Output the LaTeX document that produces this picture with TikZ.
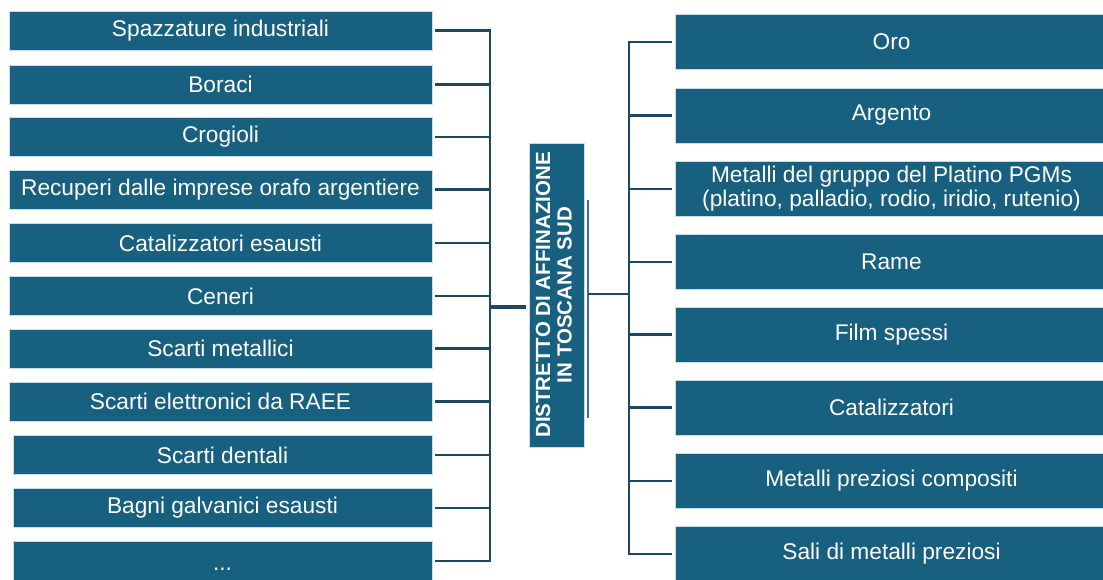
\documentclass[tikz,border=0pt]{standalone}
\usepackage{fontspec}
\setmainfont{Liberation Sans}
\usepackage{graphicx}
\usepackage{tikz}
\usetikzlibrary{positioning,calc}
\definecolor{boxBlue}{RGB}{24,96,128}
\definecolor{linkBlue}{RGB}{28,72,98}
\definecolor{edgeBlue}{RGB}{200,220,232}

\begin{document}
\begin{tikzpicture}[x=1pt,y=-1pt,
    item/.style={draw=edgeBlue, line width=0.8pt, fill=boxBlue, text=white, inner sep=0pt, align=center, font=\fontsize{22.7}{24}\selectfont},
    litem/.style={item, minimum width=423pt, minimum height=39pt},
    ritem/.style={item, minimum width=433pt, minimum height=55pt},
    hubbox/.style={item, minimum width=55pt, minimum height=304pt, font=\bfseries\fontsize{20.5}{21.5}\selectfont},
    link/.style={draw=linkBlue, line width=2.4pt}]
    \useasboundingbox (0,0) rectangle (1103,579);

    % sources
    \node[litem] (s1) at (220.5,30.5) {Spazzature industriali};
    \node[litem] (s2) at (220.5,84.5) {Boraci};
    \node[litem] (s3) at (220.5,137) {Crogioli};
    \node[litem] (s4) at (220.5,189.5) {Recuperi dalle imprese orafo argentiere};
    \node[litem] (s5) at (220.5,243) {Catalizzatori esausti};
    \node[litem] (s6) at (220.5,296) {Ceneri};
    \node[litem] (s7) at (220.5,348.5) {Scarti metallici};
    \node[litem] (s8) at (220.5,401.5) {Scarti elettronici da RAEE};
    \node[litem, minimum width=419pt] (s9) at (222.5,455) {Scarti dentali};
    \node[litem, minimum width=419pt] (s10) at (222.5,508) {Bagni galvanici esausti};
    \node[litem, minimum width=419pt] (s11) at (222.5,561) {\raisebox{-9pt}[0pt][0pt]{...}};

    % district
    \node[hubbox] (hub) at (556.5,295) {\rotatebox{90}{\begin{tabular}{@{}c@{}}DISTRETTO DI AFFINAZIONE\\IN TOSCANA SUD\end{tabular}}};

    % products
    \node[ritem] (m1) at (891.5,42) {Oro};
    \node[ritem] (m2) at (891.5,115.5) {Argento};
    \node[ritem] (m3) at (891.5,189) {Metalli del gruppo del Platino PGMs\\(platino, palladio, rodio, iridio, rutenio)};
    \node[ritem] (m4) at (891.5,262) {Rame};
    \node[ritem] (m5) at (891.5,334.5) {Film spessi};
    \node[ritem] (m6) at (891.5,407.5) {Catalizzatori};
    \node[ritem] (m7) at (891.5,481) {Metalli preziosi compositi};
    \node[ritem] (m8) at (891.5,554) {Sali di metalli preziosi};

    \coordinate (lbus) at (490,307);
    \coordinate (rbus) at (629,294);
    \coordinate (tickTop) at (588,200);
    \coordinate (tickBot) at (588,418);

    % left tree
    \draw[link, shorten <=3pt] (s1.east) -| (lbus);
    \draw[link, shorten <=3pt] (s2.east) -| (lbus);
    \draw[link, shorten <=3pt] (s3.east) -| (lbus);
    \draw[link, shorten <=3pt] (s4.east) -| (lbus);
    \draw[link, shorten <=3pt] (s5.east) -| (lbus);
    \draw[link, shorten <=3pt] (s6.east) -| (lbus);
    \draw[link, shorten <=3pt] (s7.east) -| (lbus);
    \draw[link, shorten <=3pt] (s8.east) -| (lbus);
    \draw[link, shorten <=3pt] (s9.east) -| (lbus);
    \draw[link, shorten <=3pt] (s10.east) -| (lbus);
    \draw[link, shorten <=3pt] (s11.east) -| (lbus);
    \draw[link, line width=4pt, shorten >=3pt] (lbus) -- (lbus -| hub.west);

    % right tree
    \draw[linkBlue!80, line width=1.2pt] (tickTop) -- (tickBot);
    \draw[link] (rbus -| tickTop) -- (rbus);
    \draw[link, shorten >=3pt] (rbus) |- (m1.west);
    \draw[link, shorten >=3pt] (rbus) |- (m2.west);
    \draw[link, shorten >=3pt] (rbus) |- (m3.west);
    \draw[link, shorten >=3pt] (rbus) |- (m4.west);
    \draw[link, shorten >=3pt] (rbus) |- (m5.west);
    \draw[link, shorten >=3pt] (rbus) |- (m6.west);
    \draw[link, shorten >=3pt] (rbus) |- (m7.west);
    \draw[link, shorten >=3pt] (rbus) |- (m8.west);
\end{tikzpicture}
\end{document}
